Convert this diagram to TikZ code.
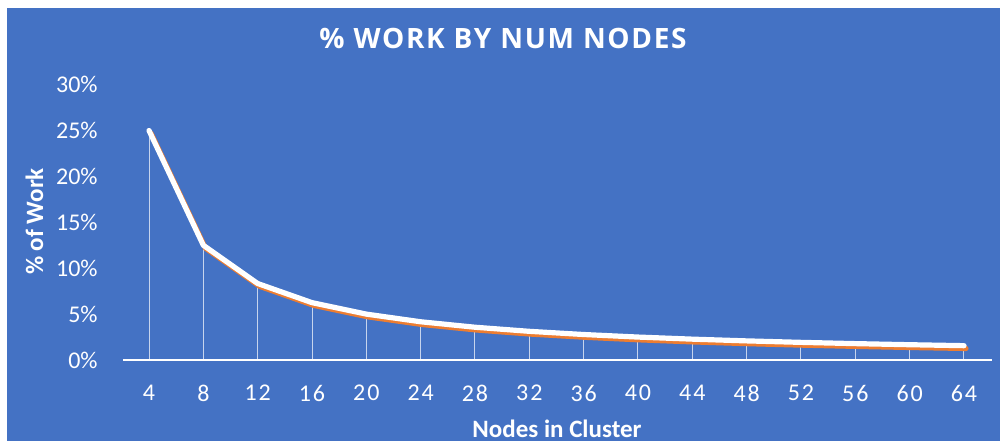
\documentclass[tikz,border=0pt]{standalone}
\usepackage{fontspec}
\setmainfont{Carlito}
\newfontfamily\titlefont[LetterSpace=6]{Open Sans}
\newfontfamily\tickfont[LetterSpace=8]{Carlito}
\definecolor{chartblue}{HTML}{4472C4}
\definecolor{lineorange}{HTML}{ED7D31}
\begin{document}
\begin{tikzpicture}[x=0.5pt,y=-0.5pt,
    ticklabel/.style={text=white,inner sep=0pt,font=\fontsize{12}{14}\selectfont},
    axistitle/.style={text=white,inner sep=0pt,font=\bfseries\fontsize{12.5}{15}\selectfont},
    dropline/.style={white,opacity=0.7,line width=0.5pt},
    dataline/.style={line width=2.6pt,line cap=round,line join=round}]
    \useasboundingbox (0,0) rectangle (1000,441);
    \fill[chartblue] (7,8) rectangle (1000,441);
    \clip (7,8) rectangle (1000,441);
    \node[text=white,font=\titlefont\bfseries\fontsize{14}{17}\selectfont] (title) at (503,38) {\% WORK BY NUM NODES};
    % value axis
    \foreach \v in {0,5,...,30}
        \node[ticklabel,anchor=east] (y\v) at (98,{360-9.18*\v}) {\v\%};
    \node[axistitle,rotate=90,anchor=base] (ytitle) at (43,221.5) {\% of Work};
    % category axis
    \coordinate (axl) at (123,360);
    \coordinate (axr) at (992,360);
    \draw[white,line width=0.75pt] (axl) -- (axr);
    \foreach \n in {4,8,...,64} {
        \coordinate (p\n) at ({149+13.583*(\n-4)},{360-918/\n});
        \coordinate (b\n) at ({149+13.583*(\n-4)},360);
        \node[ticklabel,font=\tickfont\fontsize{12}{14}\selectfont] (x\n) at ({149+13.583*(\n-4)},393) {\n};
        \draw[dropline] (p\n) -- (b\n);
    }
    \node[axistitle,anchor=base] (xtitle) at (557,437) {Nodes in Cluster};
    % work curve
    \begin{scope}[transform canvas={xshift=1pt,yshift=-1.4pt}]
        \draw[dataline,lineorange] (p4) \foreach \n in {8,12,...,64} {-- (p\n)};
    \end{scope}
    \draw[dataline,white] (p4) \foreach \n in {8,12,...,64} {-- (p\n)};
\end{tikzpicture}
\end{document}
